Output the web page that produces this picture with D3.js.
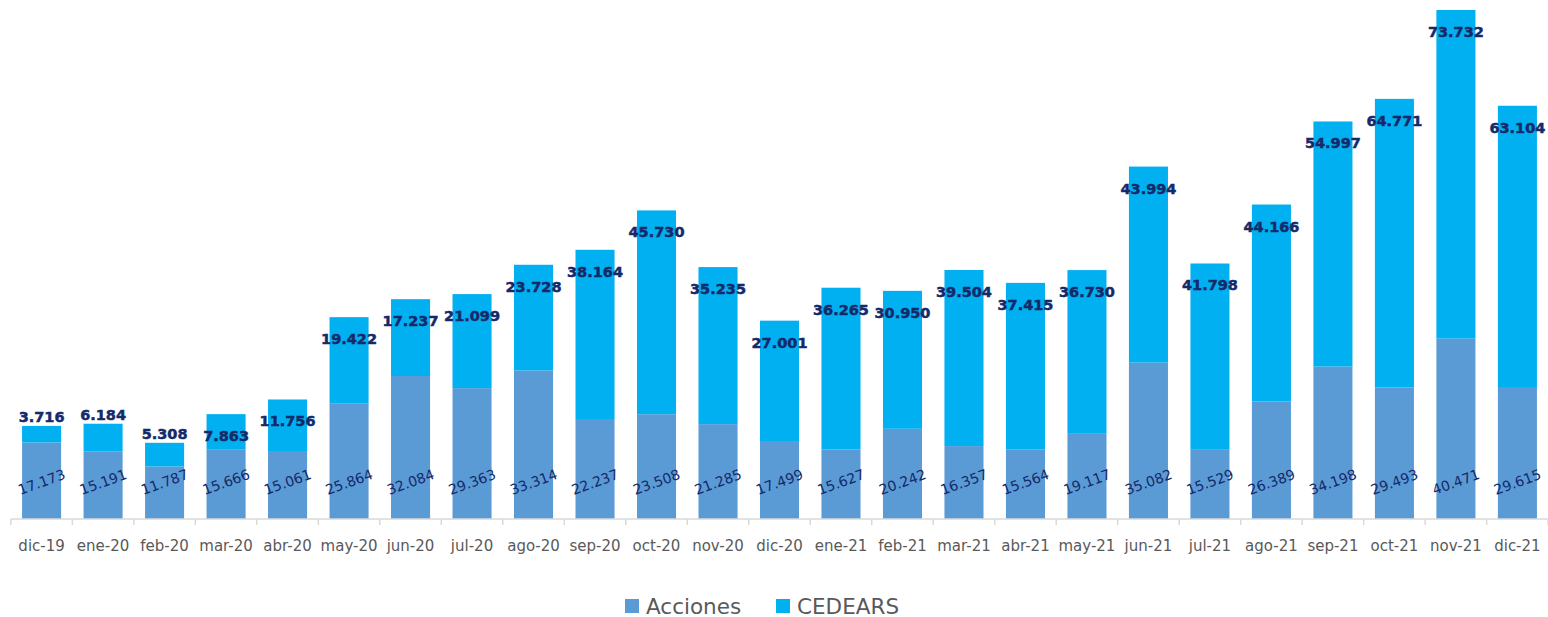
<!DOCTYPE html>
<html><head><meta charset="utf-8">
<script src="https://cdn.jsdelivr.net/npm/d3@7/dist/d3.min.js"></script>
<style>body{margin:0;background:#fff;}svg{display:block;font-family:"DejaVu Sans",Verdana,sans-serif;}</style>
</head><body><svg id="c" width="1548" height="617"></svg>
<script>
const categories = ["dic-19","ene-20","feb-20","mar-20","abr-20","may-20","jun-20","jul-20","ago-20","sep-20","oct-20","nov-20","dic-20","ene-21","feb-21","mar-21","abr-21","may-21","jun-21","jul-21","ago-21","sep-21","oct-21","nov-21","dic-21"];
const acciones = [17173,15191,11787,15666,15061,25864,32084,29363,33314,22237,23508,21285,17499,15627,20242,16357,15564,19117,35082,15529,26389,34198,29493,40471,29615];
const cedears = [3716,6184,5308,7863,11756,19422,17237,21099,23728,38164,45730,35235,27001,36265,30950,39504,37415,36730,43994,41798,44166,54997,64771,73732,63104];
const seriesNames = ["Acciones","CEDEARS"];
const colors = ["#5B9BD5","#00B0F0"];
const labelColor = "#142A6A";

const svg = d3.select("#c");
const fmt = v => d3.format(",")(v).replace(/,/g,".");
const x = d3.scaleBand().domain(categories).range([11,1548]).paddingInner(0.365).paddingOuter(0.18);
const totals = categories.map((c,i)=>acciones[i]+cedears[i]);
const y = d3.scaleLinear().domain([0, d3.max(totals)]).range([519,10]);

// bars
const g = svg.append("g");
categories.forEach((c,i)=>{
  g.append("rect").attr("x",x(c)).attr("width",x.bandwidth())
    .attr("y",y(acciones[i])).attr("height",y(0)-y(acciones[i])).attr("fill",colors[0]);
  g.append("rect").attr("x",x(c)).attr("width",x.bandwidth())
    .attr("y",y(totals[i])).attr("height",y(acciones[i])-y(totals[i])).attr("fill",colors[1]);
});

// axis
const axisG = svg.append("g").attr("transform","translate(0,519)");
axisG.append("line").attr("x1",11).attr("x2",1548).attr("y1",0).attr("y2",0).attr("stroke","#D9D9D9").attr("stroke-width",1.5);
const step = x.step();
const bounds = categories.map(c=>x(c)+x.bandwidth()/2-step/2);
bounds.push(x(categories[categories.length-1])+x.bandwidth()/2+step/2);
axisG.selectAll("line.t").data(bounds).enter().append("line").attr("class","t")
  .attr("x1",d=>d).attr("x2",d=>d).attr("y1",0).attr("y2",6).attr("stroke","#D9D9D9").attr("stroke-width",1.5);
axisG.selectAll("text").data(categories).enter().append("text")
  .attr("x",d=>x(d)+x.bandwidth()/2).attr("y",32).attr("text-anchor","middle")
  .attr("font-size",15).attr("fill","#595959").text(d=>d);

// acciones labels
categories.forEach((c,i)=>{
  const cx = x(c)+x.bandwidth()/2, cy = y(0)-37;
  svg.append("text").attr("transform",`translate(${cx},${cy}) rotate(-20)`)
    .attr("text-anchor","middle").attr("dominant-baseline","central")
    .attr("font-size",14).attr("fill",labelColor).text(fmt(acciones[i]));
});
// cedears labels
categories.forEach((c,i)=>{
  const top = y(totals[i]), h = y(acciones[i]) - top;
  const cy = h < 30 ? top - 9 : top + 22;
  svg.append("text").attr("x",x(c)+x.bandwidth()/2).attr("y",cy)
    .attr("text-anchor","middle").attr("dominant-baseline","central")
    .attr("font-size",14.5).attr("font-weight","bold").attr("fill",labelColor)
    .attr("stroke",labelColor).attr("stroke-width",0.5).text(fmt(cedears[i]));
});

// legend
const leg = svg.append("g");
const lx = [625,776];
seriesNames.forEach((n,i)=>{
  leg.append("rect").attr("x",lx[i]).attr("y",599).attr("width",14).attr("height",14).attr("fill",colors[i]);
  leg.append("text").attr("x",lx[i]+21).attr("y",606).attr("dominant-baseline","central")
    .attr("font-size",21.5).attr("fill","#595959").text(n);
});
</script></body></html>
